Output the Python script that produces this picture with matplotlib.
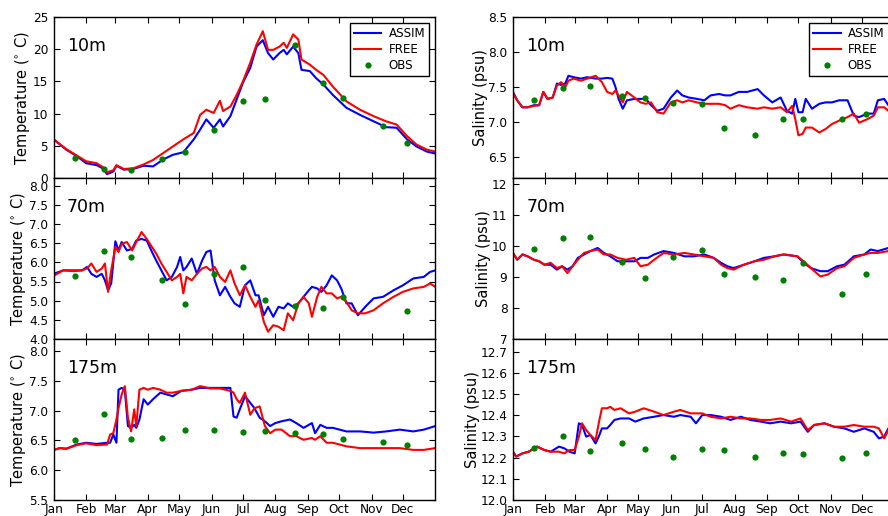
import numpy as np
import matplotlib
matplotlib.use("Agg")
import matplotlib.pyplot as plt

# ---------------- data ----------------
month_days = [0, 31, 59, 90, 120, 151, 181, 212, 243, 273, 304, 334]
month_labels = ["Jan", "Feb", "Mar", "Apr", "May", "Jun", "Jul", "Aug", "Sep", "Oct", "Nov", "Dec"]
obs_days = [20, 48, 74, 104, 126, 153, 181, 202, 231, 258, 277, 315, 338]

# Temperature 10m
t10_days = [0, 12, 22, 31, 41, 47, 51, 57, 60, 67, 76, 86, 95, 105, 114, 124, 134, 140, 146, 153,
            159, 162, 169, 175, 181, 188, 194, 200, 205, 210, 216, 220, 223, 229, 234, 237, 245, 251, 258, 267,
            280, 293, 306, 318, 328, 338, 347, 357, 365]
t10_assim = [6.0, 4.4, 3.4, 2.3, 2.0, 1.5, 0.6, 1.0, 1.9, 1.3, 1.4, 1.9, 1.8, 2.9, 3.6, 4.0, 6.0, 7.5, 9.1, 7.8,
             9.1, 8.0, 9.6, 12.2, 14.8, 17.1, 20.4, 21.4, 19.4, 18.4, 19.4, 19.9, 19.2, 20.4, 19.4, 16.8, 16.6, 15.5, 14.5, 12.9,
             10.9, 9.8, 8.8, 7.9, 7.8, 6.0, 4.9, 4.1, 3.8]
t10_free = [6.0, 4.5, 3.5, 2.6, 2.3, 1.7, 0.9, 1.2, 2.0, 1.4, 1.5, 2.1, 2.8, 3.9, 4.9, 6.0, 7.0, 9.8, 10.6, 10.1,
            12.0, 10.4, 11.1, 12.9, 15.0, 17.9, 20.7, 22.8, 19.9, 19.9, 20.4, 21.0, 20.2, 22.3, 21.5, 18.4, 17.6, 16.8, 16.0, 14.2,
            11.9, 10.6, 9.6, 8.8, 8.3, 6.5, 5.2, 4.4, 4.1]
t10_obs = [3.1, 1.4, 1.3, 2.9, 4.0, 7.5, 12.0, 12.3, 20.6, 14.7, 12.4, 8.0, 5.5]

# Temperature 70m
t70_days = [0, 9, 19, 27, 32, 36, 41, 46, 49, 52, 55, 59, 62, 65, 70, 75, 79, 84, 89, 94,
            98, 103, 108, 113, 118, 121, 124, 127, 132, 137, 142, 146, 150, 154, 159, 164, 169, 173, 178, 183,
            188, 193, 196, 201, 205, 210, 215, 220, 224, 229, 234, 239, 244, 247, 252, 256, 261, 266, 271, 275,
            280, 285, 291, 298, 306, 315, 325, 334, 344, 354, 360, 365]
t70_assim = [5.70, 5.79, 5.79, 5.79, 5.88, 5.70, 5.62, 5.70, 5.53, 5.27, 5.45, 6.55, 6.31, 6.53, 6.31, 6.35, 6.57, 6.61, 6.57, 6.27,
             6.05, 5.79, 5.53, 5.62, 5.88, 6.14, 5.79, 5.88, 6.10, 5.70, 6.05, 6.27, 6.31, 5.53, 5.14, 5.36, 5.10, 4.93, 4.84, 5.40,
             5.53, 5.14, 5.14, 4.62, 4.84, 4.58, 4.84, 4.80, 4.93, 4.84, 4.93, 5.10, 5.27, 5.36, 5.32, 5.23, 5.40, 5.66, 5.53, 5.32,
             4.93, 4.93, 4.62, 4.84, 5.06, 5.10, 5.27, 5.40, 5.58, 5.62, 5.75, 5.79]
t70_free = [5.65, 5.79, 5.77, 5.79, 5.84, 5.97, 5.75, 5.84, 5.97, 5.23, 5.79, 6.40, 6.27, 6.48, 6.53, 6.31, 6.53, 6.79, 6.61, 6.40,
            6.23, 5.97, 5.75, 5.53, 5.62, 5.70, 5.19, 5.62, 5.53, 5.70, 5.84, 5.88, 5.79, 5.88, 5.62, 5.49, 5.79, 5.45, 5.14, 5.40,
            5.10, 4.84, 5.01, 4.45, 4.19, 4.36, 4.32, 4.23, 4.67, 4.49, 4.93, 5.10, 4.93, 4.58, 5.10, 5.36, 5.19, 5.19, 5.06, 5.10,
            4.97, 4.75, 4.67, 4.67, 4.75, 4.93, 5.10, 5.23, 5.32, 5.36, 5.45, 5.36]
t70_obs = [5.65, 6.29, 6.13, 5.54, 4.92, 5.69, 5.87, 5.03, 4.87, 4.80, 5.09, np.nan, 4.73]

# Temperature 175m
t175_days = [0, 6, 12, 22, 31, 41, 51, 54, 57, 60, 62, 65, 68, 71, 74, 77, 79, 82, 86, 90,
             95, 102, 108, 114, 122, 132, 140, 150, 159, 169, 172, 175, 178, 183, 188, 192, 197, 202, 207, 212,
             218, 226, 232, 239, 247, 250, 255, 261, 267, 280, 293, 306, 318, 331, 344, 354, 365]
t175_assim = [6.34, 6.37, 6.36, 6.43, 6.46, 6.44, 6.46, 6.46, 6.60, 6.46, 7.35, 7.38, 7.35, 6.74, 6.71, 6.76, 6.71, 6.85, 7.19, 7.10,
              7.19, 7.30, 7.27, 7.24, 7.33, 7.35, 7.38, 7.38, 7.38, 7.38, 6.90, 6.88, 7.02, 7.24, 7.13, 7.04, 6.88, 6.82, 6.74, 6.79,
              6.82, 6.85, 6.79, 6.71, 6.79, 6.62, 6.76, 6.71, 6.71, 6.65, 6.65, 6.63, 6.65, 6.68, 6.65, 6.68, 6.74]
t175_free = [6.34, 6.37, 6.36, 6.42, 6.45, 6.42, 6.43, 6.60, 6.62, 6.85, 7.04, 7.27, 7.41, 6.88, 6.65, 7.02, 6.74, 7.35, 7.38, 7.35,
             7.38, 7.35, 7.30, 7.30, 7.33, 7.35, 7.41, 7.37, 7.37, 7.33, 7.30, 7.19, 7.13, 7.30, 6.93, 7.04, 7.07, 6.74, 6.62, 6.68,
             6.68, 6.57, 6.57, 6.51, 6.54, 6.51, 6.57, 6.46, 6.46, 6.40, 6.37, 6.37, 6.37, 6.37, 6.34, 6.34, 6.37]
t175_obs = [6.51, 6.94, 6.53, 6.54, 6.67, 6.67, 6.64, 6.65, 6.63, 6.61, 6.53, 6.47, 6.43]

# Salinity 10m
s10_days = [0, 4, 9, 14, 20, 25, 29, 33, 38, 42, 46, 50, 53, 58, 65, 71, 79, 85, 90, 95,
            98, 101, 105, 109, 116, 122, 127, 132, 138, 144, 151, 157, 162, 168, 176, 183, 189, 197, 203, 208,
            216, 224, 234, 240, 248, 256, 262, 267, 270, 273, 277, 280, 286, 293, 299, 305, 312, 320, 326, 331,
            339, 345, 349, 355, 359, 365]
s10_assim = [7.43, 7.31, 7.21, 7.21, 7.24, 7.24, 7.43, 7.33, 7.35, 7.55, 7.53, 7.55, 7.66, 7.64, 7.62, 7.64, 7.62, 7.62, 7.63, 7.62,
             7.50, 7.33, 7.19, 7.31, 7.33, 7.33, 7.33, 7.24, 7.16, 7.19, 7.35, 7.45, 7.38, 7.35, 7.33, 7.31, 7.38, 7.40, 7.38, 7.38,
             7.43, 7.43, 7.47, 7.38, 7.28, 7.35, 7.16, 7.12, 7.33, 7.14, 7.14, 7.33, 7.19, 7.26, 7.28, 7.28, 7.31, 7.31, 7.09, 7.07,
             7.12, 7.12, 7.31, 7.33, 7.24, 7.25]
s10_free = [7.41, 7.31, 7.21, 7.21, 7.23, 7.24, 7.43, 7.33, 7.35, 7.52, 7.57, 7.50, 7.59, 7.62, 7.59, 7.62, 7.66, 7.57, 7.43, 7.40,
            7.45, 7.38, 7.28, 7.43, 7.35, 7.28, 7.26, 7.28, 7.14, 7.12, 7.28, 7.31, 7.28, 7.31, 7.28, 7.26, 7.26, 7.26, 7.24, 7.19,
            7.24, 7.21, 7.19, 7.21, 7.19, 7.21, 7.14, 7.23, 7.04, 6.81, 6.83, 6.92, 6.92, 6.85, 6.90, 6.97, 7.02, 7.07, 7.12, 6.99,
            7.04, 7.09, 7.21, 7.21, 7.16, 7.15]
s10_obs = [7.32, 7.48, 7.51, 7.37, 7.35, 7.27, 7.26, 6.92, 6.82, 7.05, 7.05, 7.05, 7.11]

# Salinity 70m
s70_days = [0, 4, 9, 14, 20, 25, 30, 36, 42, 47, 52, 57, 62, 68, 74, 81, 87, 93, 100, 108,
            116, 122, 129, 135, 144, 154, 164, 173, 183, 192, 199, 205, 211, 221, 231, 240, 250, 259, 272, 278,
            285, 294, 301, 310, 317, 326, 336, 342, 349, 359, 365]
s70_assim = [9.78, 9.56, 9.73, 9.67, 9.56, 9.51, 9.40, 9.40, 9.24, 9.35, 9.24, 9.35, 9.62, 9.73, 9.84, 9.94, 9.78, 9.67, 9.51, 9.51,
             9.51, 9.62, 9.62, 9.73, 9.84, 9.78, 9.67, 9.67, 9.73, 9.62, 9.46, 9.35, 9.29, 9.40, 9.51, 9.62, 9.67, 9.73, 9.67, 9.46,
             9.29, 9.19, 9.19, 9.35, 9.40, 9.67, 9.73, 9.89, 9.84, 9.94, 9.95]
s70_free = [9.78, 9.56, 9.73, 9.67, 9.56, 9.51, 9.40, 9.46, 9.29, 9.35, 9.13, 9.35, 9.56, 9.78, 9.84, 9.89, 9.73, 9.73, 9.62, 9.56,
            9.62, 9.35, 9.40, 9.56, 9.78, 9.73, 9.78, 9.73, 9.67, 9.62, 9.40, 9.29, 9.24, 9.40, 9.51, 9.56, 9.67, 9.73, 9.67, 9.51,
            9.29, 9.02, 9.08, 9.29, 9.35, 9.62, 9.73, 9.78, 9.78, 9.84, 9.85]
s70_obs = [9.91, 10.26, 10.30, 9.49, 8.97, 9.64, 9.87, 9.09, 8.99, 8.92, 9.44, 8.46, 9.09]

# Salinity 175m
s175_days = [0, 3, 9, 15, 23, 30, 36, 44, 49, 54, 59, 63, 66, 70, 74, 79, 82, 85, 90, 93,
             97, 103, 111, 117, 125, 135, 144, 154, 160, 170, 175, 181, 189, 199, 208, 218, 227, 237, 246, 256,
             266, 275, 282, 288, 298, 307, 317, 326, 336, 345, 350, 355, 359, 365]
s175_assim = [12.228, 12.205, 12.220, 12.228, 12.252, 12.236, 12.228, 12.252, 12.244, 12.228, 12.220, 12.362, 12.354, 12.299, 12.307,
              12.267, 12.299, 12.338, 12.338, 12.354, 12.378, 12.385, 12.385, 12.370, 12.385, 12.393, 12.401, 12.393, 12.401, 12.393,
              12.362, 12.401, 12.401, 12.393, 12.378, 12.393, 12.378, 12.370, 12.362, 12.370, 12.362, 12.370, 12.322, 12.354, 12.362,
              12.346, 12.338, 12.322, 12.338, 12.322, 12.291, 12.299, 12.338, 12.330]
s175_free = [12.228, 12.205, 12.220, 12.228, 12.252, 12.236, 12.228, 12.228, 12.220, 12.236, 12.236, 12.299, 12.362, 12.330, 12.307,
             12.283, 12.362, 12.433, 12.433, 12.440, 12.425, 12.433, 12.409, 12.417, 12.433, 12.417, 12.401, 12.417, 12.425, 12.409,
             12.409, 12.409, 12.393, 12.385, 12.393, 12.385, 12.385, 12.378, 12.378, 12.385, 12.370, 12.385, 12.330, 12.354, 12.362,
             12.346, 12.346, 12.354, 12.346, 12.346, 12.338, 12.291, 12.330, 12.330]
s175_obs = [12.247, 12.304, 12.231, 12.267, 12.239, 12.201, 12.242, 12.236, 12.201, 12.220, 12.217, 12.197, 12.223]

# ---------------- plotting ----------------
plt.rcParams.update({
    "font.family": "DejaVu Sans",
    "font.size": 10.5,
    "xtick.labelsize": 8.7,
    "ytick.labelsize": 8.7,
    "xtick.direction": "in",
    "ytick.direction": "in",
    "xtick.top": True,
    "ytick.right": True,
    "xtick.major.size": 4,
    "ytick.major.size": 4,
    "xtick.major.pad": 2,
    "ytick.major.pad": 4,
    "axes.linewidth": 1.0,
    "axes.labelpad": 0.5,
    "legend.fontsize": 8.6,
})

fig = plt.figure(figsize=(8.88, 5.16), dpi=100)
W = 381.6 / 888
H = 161 / 516
lefts = [53.7 / 888, 513 / 888]
bottoms = [1 - 178 / 516, 1 - 339 / 516, 1 - 500 / 516]

panels = [
    # (col, row, days, assim, free, obs, label, ylim, yticks, fmt)
    (0, 0, t10_days, t10_assim, t10_free, t10_obs, "10m", (0, 25), np.arange(0, 26, 5), "%d"),
    (0, 1, t70_days, t70_assim, t70_free, t70_obs, "70m", (4.0, 8.2), np.arange(4.0, 8.01, 0.5), "%.1f"),
    (0, 2, t175_days, t175_assim, t175_free, t175_obs, "175m", (5.5, 8.2), np.arange(5.5, 8.01, 0.5), "%.1f"),
    (1, 0, s10_days, s10_assim, s10_free, s10_obs, "10m", (6.2, 8.5), np.arange(6.5, 8.51, 0.5), "%.1f"),
    (1, 1, s70_days, s70_assim, s70_free, s70_obs, "70m", (7, 12.2), np.arange(7, 12.01, 1), "%d"),
    (1, 2, s175_days, s175_assim, s175_free, s175_obs, "175m", (12.0, 12.76), np.arange(12.0, 12.71, 0.1), "%.1f"),
]

for col, row, days, assim, free, obs, lab, ylim, yticks, fmt in panels:
    ax = fig.add_axes([lefts[col], bottoms[row], W, H])
    ax.plot(days, assim, color=(0, 0, 1), lw=1.5, label="ASSIM")
    ax.plot(days, free, color=(1, 0, 0), lw=1.5, label="FREE")
    ax.plot(obs_days, obs, "o", color=(0, 0.5, 0), markersize=4.5, markeredgewidth=0, label="OBS")
    ax.set_xlim(0, 365)
    ax.set_ylim(*ylim)
    ax.set_yticks(yticks)
    ax.set_yticklabels([fmt % v for v in yticks])
    ax.set_xticks(month_days)
    if row == 2:
        ax.set_xticklabels(month_labels)
    else:
        ax.set_xticklabels([])
    ax.text(0.035, 0.82, lab, transform=ax.transAxes, fontsize=12.5, va="center", ha="left")
    if col == 0:
        ax.set_ylabel("Temperature ($^{\\circ}$ C)")
    else:
        ax.set_ylabel("Salinity (psu)")
    if row == 0:
        leg = ax.legend(loc="upper right", numpoints=1, fancybox=False, framealpha=1,
                        edgecolor="black", handlelength=2.3, handletextpad=0.6,
                        borderpad=0.35, labelspacing=0.25, borderaxespad=0.5)
        leg.get_frame().set_linewidth(1.0)

fig.savefig("out.png", dpi=100, facecolor="white")
